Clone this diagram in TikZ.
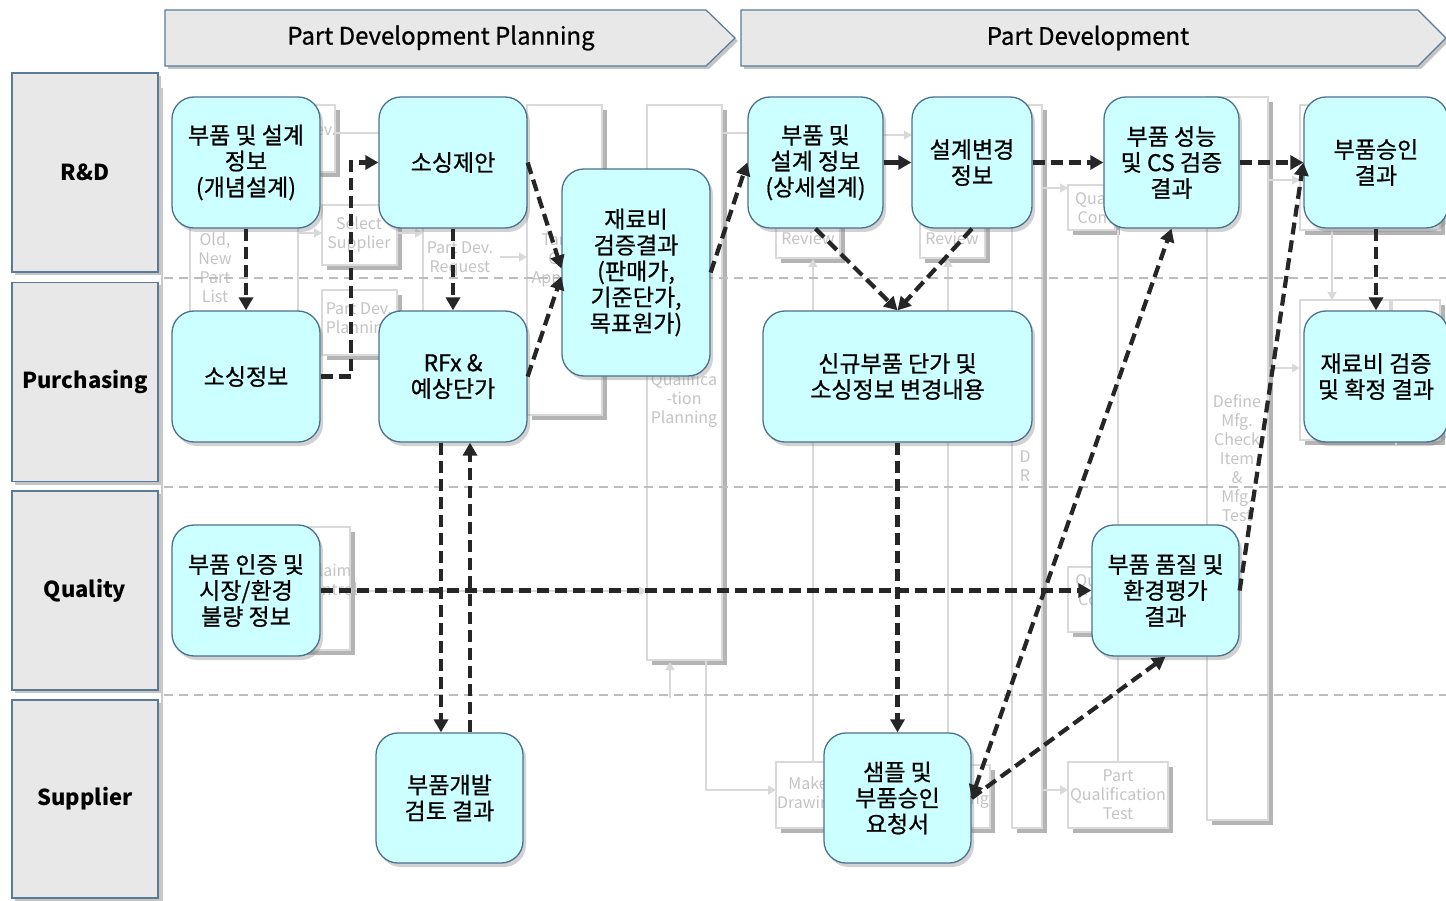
\documentclass[tikz,border=0pt]{standalone}
\usepackage{fontspec}
\setmainfont{Noto Sans CJK KR}
\newfontfamily\medfont[FakeBold=0.7]{Noto Sans CJK KR}
\usetikzlibrary{shadows,arrows.meta}
\definecolor{boxfill}{HTML}{CCFFFF}
\definecolor{boxborder}{HTML}{4E7090}
\definecolor{lanefill}{HTML}{E8E8E8}
\definecolor{laneborder}{HTML}{5A7A98}
\definecolor{darkline}{HTML}{262626}
\definecolor{ghost}{HTML}{D9D9D9}
\definecolor{ghosttext}{HTML}{C4C4C4}
\definecolor{ghostshadow}{HTML}{A8A8A8}
\definecolor{sepgray}{HTML}{BDBDBD}
\tikzset{
  mainbox/.style={draw=boxborder, fill=boxfill, line width=1.3pt, rounded corners=22pt,
    align=center, inner sep=2pt, text=black,
    font=\medfont\fontsize{23}{26}\selectfont,
    drop shadow={shadow xshift=3pt, shadow yshift=-4pt, opacity=0.35}},
  lanebox/.style={draw=laneborder, fill=lanefill, line width=1.2pt, align=center,
    minimum width=146pt, minimum height=199pt, inner sep=0pt,
    font=\fontsize{22}{26}\selectfont\bfseries,
    drop shadow={shadow xshift=3pt, shadow yshift=-3pt, opacity=0.45}},
  phasebox/.style={draw=laneborder, fill=lanefill, line width=1.2pt,
    drop shadow={shadow xshift=3pt, shadow yshift=-3pt, opacity=0.45}},
  phasetext/.style={font=\medfont\fontsize{24}{28}\selectfont, text=black},
  ghostbox/.style={draw=ghost, fill=white, line width=1.3pt,
    drop shadow={shadow xshift=5pt, shadow yshift=-5pt, fill=ghostshadow, opacity=0.85}},
  ghosttxt/.style={text=ghosttext, align=center, font=\fontsize{16}{19}\selectfont, inner sep=0pt},
  ghostline/.style={draw=ghost, line width=1.3pt},
  ghostarrow/.style={draw=ghost, line width=1.3pt, -{Triangle[length=8pt,width=9pt]}},
  lanesep/.style={draw=sepgray, line width=1.3pt, dash pattern=on 9pt off 6pt},
  conn/.style={draw=darkline, line width=4.2pt, dash pattern=on 12pt off 6pt,
    -{Triangle[length=13pt,width=14pt]}},
  solidconn/.style={draw=darkline, line width=4.2pt, -{Triangle[length=13pt,width=14pt]}},
}
\begin{document}
\begin{tikzpicture}[x=1pt,y=-1pt]
\useasboundingbox (0,0) rectangle (1446,901);
\fill[white] (0,0) rectangle (1446,901);

% ---------------- faded background process ----------------
\draw[draw=sepgray!80, line width=2pt] (162,88) -- (162,901);
\draw[ghostbox] (300,105) rectangle (335,172);
\node[ghosttxt] (gdev) at (320,130) {Dev.};
\draw[ghostline] (335,133) -- (379,133);
\draw[ghostline] (190,228) -- (190,311);
\draw[ghostline] (298,228) -- (298,311);
\node[ghosttxt] (gold) at (215,268) {Old,\\New\\Part\\List};
\draw[ghostbox] (322,205) rectangle (397,265);
\node[ghosttxt] (gsel) at (359,234) {Select\\Supplier};
\draw[ghostarrow] (298,233) -- (322,233);
\draw[ghostarrow] (397,233) -- (423,233);
\draw[ghostbox] (322,290) rectangle (397,355);
\node[ghosttxt] (gpdp) at (359,320) {Part Dev.\\Planning};
\draw[ghostline] (423,228) -- (423,311);
\node[ghosttxt] (gpdr) at (460,259) {Part Dev.\\Request};
\draw[ghostbox] (527,105) rectangle (602,415);
\draw[ghostarrow] (500,257) -- (527,257);
\node[ghosttxt] (gtca) at (565,260) {Target\\Cost\\Approval};
\draw[ghostbox] (647,105) rectangle (722,660);
\node[ghosttxt] (gqp) at (684,400) {Qualifica\\-tion\\Planning};
\draw[ghostarrow] (350,591) -- (647,591);
\draw[ghostarrow] (670,698) -- (670,662);
\draw[ghostline] (722,133) -- (748,133);
\draw[ghostarrow] (706,660) -- (706,790) -- (776,790);
\draw[ghostbox] (776,200) rectangle (840,258);
\node[ghosttxt] (grev1) at (808,238) {Review};
\draw[ghostbox] (920,200) rectangle (985,258);
\node[ghosttxt] (grev2) at (952,238) {Review};
\draw[ghostarrow] (883,135) -- (912,135);
\draw[ghostarrow] (813,762) -- (813,259);
\draw[ghostarrow] (948,765) -- (948,259);
\draw[ghostbox] (776,762) rectangle (840,828);
\node[ghosttxt] (gmd) at (808,795) {Make\\Drawing};
\draw[ghostbox] (955,765) rectangle (990,828);
\node[ghosttxt] (gtest) at (962,800) {Testing};
\draw[ghostbox] (1012,105) rectangle (1042,828);
\node[ghosttxt] (gdr) at (1025,466) {D\\R};
\draw[ghostarrow] (1042,188) -- (1068,188);
\draw[ghostbox] (1068,185) rectangle (1115,230);
\node[ghosttxt] (gqc) at (1095,208) {Quali\\Com};
\draw[ghostline] (1118,230) -- (1118,762);
\draw[ghostbox] (1068,567) rectangle (1100,632);
\node[ghosttxt] (gqc2) at (1093,590) {Qual\\Con};
\draw[ghostarrow] (1042,790) -- (1068,790);
\draw[ghostbox] (1068,762) rectangle (1168,828);
\node[ghosttxt] (gpqt) at (1118,795) {Part\\Qualification\\Test};
\draw[ghostbox] (1207,97) rectangle (1268,820);
\node[ghosttxt] (gdef) at (1237,458) {Define\\Mfg.\\Check\\Item\\\&\\Mfg.\\Test};
\draw[ghostbox] (1300,105) rectangle (1440,230);
\draw[ghostbox] (1300,300) rectangle (1390,440);
\draw[ghostbox] (1392,300) rectangle (1440,440);
\draw[ghostarrow] (1268,180) -- (1300,180);
\draw[ghostarrow] (1268,368) -- (1300,368);
\draw[ghostarrow] (1332,230) -- (1332,300);
\draw[ghostbox] (300,527) rectangle (350,650);
\node[ghosttxt] (gclaim) at (330,580) {Claim\\Control};

% lane separators
\draw[lanesep] (164,278) -- (1446,278);
\draw[lanesep] (164,487) -- (1446,487);
\draw[lanesep] (164,695) -- (1446,695);

% ---------------- phase headers ----------------
\path[phasebox] (165,10) -- (706,10) -- (735,38) -- (706,66) -- (165,66) -- cycle;
\node[phasetext] (ph1) at (441,38) {Part Development Planning};
\path[phasebox] (741,10) -- (1418,10) -- (1446,38) -- (1418,66) -- (741,66) -- cycle;
\node[phasetext] (ph2) at (1088,38) {Part Development};

% ---------------- lanes ----------------
\node[lanebox] (l1) at (85,172.5) {R\&D};
\node[lanebox] (l2) at (85,382) {Purchasing};
\node[lanebox] (l3) at (85,590.5) {Quality};
\node[lanebox, minimum height=198pt] (l4) at (85,799) {Supplier};

% ---------------- main nodes ----------------
\node[mainbox, minimum width=148pt, minimum height=131pt] (n1) at (246,162.5) {부품 및 설계\\정보\\(개념설계)};
\node[mainbox, minimum width=148pt, minimum height=131pt] (n2) at (453,162.5) {소싱제안};
\node[mainbox, minimum width=148pt, minimum height=207pt] (n3) at (636,272.5) {재료비\\검증결과\\(판매가,\\기준단가,\\목표원가)};
\node[mainbox, minimum width=135pt, minimum height=131pt] (n4) at (815.5,162.5) {부품 및\\설계 정보\\(상세설계)};
\node[mainbox, minimum width=120pt, minimum height=131pt] (n5) at (972,162.5) {설계변경\\정보};
\node[mainbox, minimum width=135pt, minimum height=131pt] (n6) at (1171.5,162.5) {부품 성능\\및 CS 검증\\결과};
\node[mainbox, minimum width=144pt, minimum height=131pt] (n7) at (1376,162.5) {부품승인\\결과};
\node[mainbox, minimum width=148pt, minimum height=131pt] (n8) at (246,376.5) {소싱정보};
\node[mainbox, minimum width=148pt, minimum height=131pt] (n9) at (453,376.5) {RFx \&\\예상단가};
\node[mainbox, minimum width=269pt, minimum height=131pt] (n10) at (897.5,376.5) {신규부품 단가 및\\소싱정보 변경내용};
\node[mainbox, minimum width=144pt, minimum height=131pt] (n11) at (1376,376.5) {재료비 검증\\및 확정 결과};
\node[mainbox, minimum width=148pt, minimum height=131pt] (n12) at (246,590.5) {부품 인증 및\\시장/환경\\불량 정보};
\node[mainbox, minimum width=147pt, minimum height=131pt] (n13) at (1165.5,590.5) {부품 품질 및\\환경평가\\결과};
\node[mainbox, minimum width=147pt, minimum height=130pt] (n14) at (449.5,798) {부품개발\\검토 결과};
\node[mainbox, minimum width=147pt, minimum height=130pt] (n15) at (897.5,798) {샘플 및\\부품승인\\요청서};

% ---------------- connectors ----------------
\draw[conn] (n1.south) -- (n8.north);
\draw[conn] (n8.east) -- ++(30,0) |- (n2.west);
\draw[conn] (n2.south) -- (n9.north);
\draw[conn] (n2.east) -- ([yshift=4pt]n3.west);
\draw[conn] (n9.east) -- ([yshift=-4pt]n3.west);
\draw[conn] (n3.east) -- (n4.west);
\draw[solidconn] (n4.east) -- (n5.west);
\draw[conn] (n5.east) -- (n6.west);
\draw[conn] (n6.east) -- (n7.west);
\draw[conn] (n4.south) -- (n10.north);
\draw[conn] (n5.south) -- (n10.north);
\draw[conn] (n7.south) -- (n11.north);
\draw[conn] ([xshift=-12pt]n9.south) -- ([xshift=-8.5pt]n14.north);
\draw[conn] ([xshift=20.5pt]n14.north) -- ([xshift=17pt]n9.south);
\draw[conn] (n12.east) -- (n13.west);
\draw[conn] (n10.south) -- (n15.north);
\draw[conn, {Triangle[length=13pt,width=14pt]}-{Triangle[length=13pt,width=14pt]}] (n15.east) -- (n6.south);
\draw[conn] (n15.east) -- (n13.south);
\draw[conn] (n13.east) -- (n7.west);
\end{tikzpicture}
\end{document}
